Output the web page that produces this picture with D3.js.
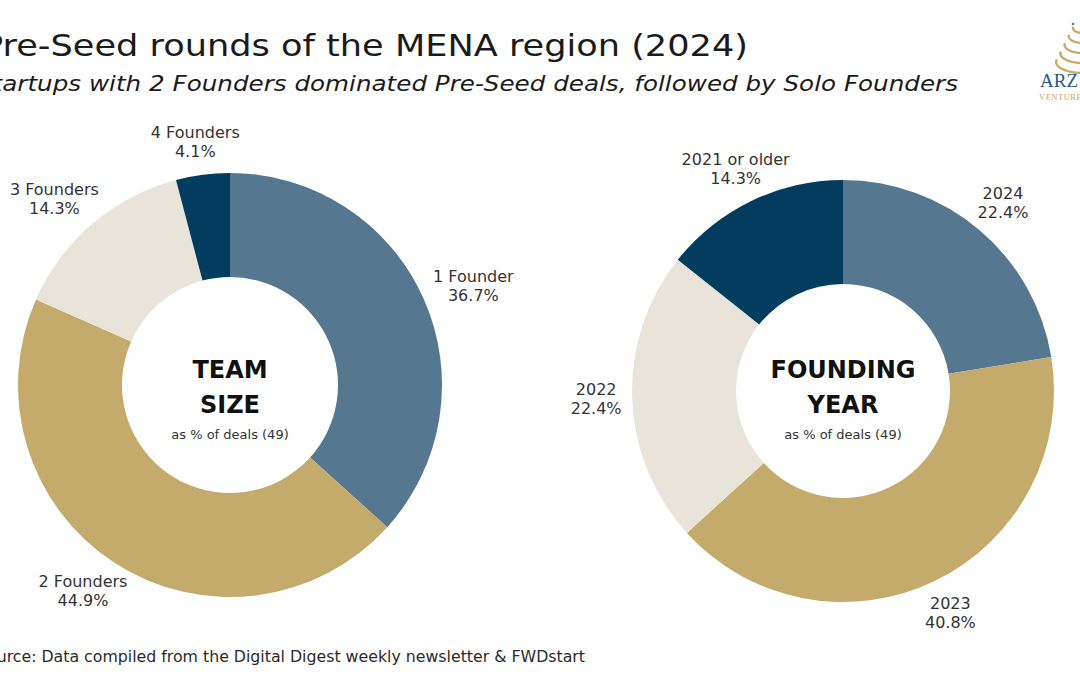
<!DOCTYPE html>
<html><head><meta charset="utf-8">
<script src="https://cdn.jsdelivr.net/npm/d3@7"></script>
<style>
html,body{margin:0;padding:0;background:#fff;overflow:hidden;}
svg{display:block;font-family:"DejaVu Sans","Open Sans",sans-serif;}
</style></head>
<body>
<svg id="c" width="1080" height="675"></svg>
<script>
const teamCategories = ["1 Founder","2 Founders","3 Founders","4 Founders"];
const teamValues = [36.7, 44.9, 14.3, 4.1];
const yearCategories = ["2024","2023","2022","2021 or older"];
const yearValues = [22.4, 40.8, 22.4, 14.3];
const sliceColors = ["#55778f","#c5ab6b","#e9e4d9","#023d60"];
const dealCount = 49;

const svg = d3.select("#c");

// Titles (cut at the left edge as in the reference)
function fitText(sel, len){ sel.attr("textLength", len).attr("lengthAdjust","spacingAndGlyphs"); }
const t1 = svg.append("text").attr("x", -18).attr("y", 56)
  .attr("font-size", 30).attr("fill","#1b1b1b")
  .text("Pre-Seed rounds of the MENA region (2024)");
fitText(t1, 766);
const t2 = svg.append("text").attr("x", -23).attr("y", 91)
  .attr("font-size", 22).attr("font-style","italic").attr("fill","#1b1b1b")
  .text("Startups with 2 Founders dominated Pre-Seed deals, followed by Solo Founders");
fitText(t2, 981);
const t3 = svg.append("text").attr("x", -23).attr("y", 662)
  .attr("font-size", 16).attr("fill","#2a2a2a")
  .text("Source: Data compiled from the Digital Digest weekly newsletter & FWDstart");
fitText(t3, 608);

// Logo (partially cut at right edge)
const logo = svg.append("g");
[0,1,2,3,4].forEach(i=>{
  const cx = 1083, cy = 28 + i*8.5, rx = 10 + i*4.2, ry = 5 + i*1.5;
  const pts = d3.range(0, 41).map(k=>{
    const t = Math.PI*0.35 + (k/40)*Math.PI*0.72;
    return [cx + rx*Math.cos(t), cy + ry*Math.sin(t)];
  });
  logo.append("path").attr("d", d3.line()(pts))
    .attr("fill","none").attr("stroke","#c9ab68").attr("stroke-width",2.4);
});
logo.append("circle").attr("cx",1073).attr("cy",24).attr("r",1.3).attr("fill","#55778f");
logo.append("text").attr("x",1040).attr("y",87).attr("font-family","Liberation Serif, serif")
  .attr("font-size",19).attr("fill","#2a5a86").text("ARZ");
logo.append("text").attr("x",1039).attr("y",100).attr("font-family","Liberation Serif, serif")
  .attr("font-size",8.5).attr("fill","#c9ab68").attr("letter-spacing",0.5).text("VENTURES");

function donut(cx, cy, R, r0, cats, vals, title1, title2, labelMode, labelR, textY){
  const g = svg.append("g").attr("transform", `translate(${cx},${cy})`);
  const pie = d3.pie().sort(null).value(d=>d.v);
  const data = pie(cats.map((c,i)=>({c, v: vals[i], i})));
  const arc = d3.arc().innerRadius(r0).outerRadius(R);
  g.selectAll("path.s").data(data).join("path").attr("class","s")
    .attr("d", arc).attr("fill", d=>sliceColors[d.data.i]);
  const lh = 19, fs = 16;
  data.forEach(d=>{
    const a = (d.startAngle + d.endAngle)/2;
    const s = Math.sin(a), c = -Math.cos(a);
    const lines = [d.data.c, d.data.v.toFixed(1) + "%"];
    let px, py;
    if (labelMode === "box") {
      const tmp = g.append("text").attr("font-size", fs).text(lines[0]);
      const w = Math.max(tmp.node().getComputedTextLength(), 40);
      tmp.remove();
      const h = 38;
      px = (R+labelR)*s + s*w/2;
      py = (R+labelR)*c + c*h/2;
    } else {
      px = labelR*s; py = labelR*c;
    }
    const t = g.append("text").attr("text-anchor","middle").attr("font-size", fs).attr("fill","#333");
    t.append("tspan").attr("x", px).attr("y", py - 4).text(lines[0]);
    t.append("tspan").attr("x", px).attr("y", py - 4 + lh).text(lines[1]);
  });
  const tg = svg.append("g").attr("transform", `translate(${cx},${textY})`);
  tg.append("text").attr("text-anchor","middle").attr("y",-7).attr("font-size",24)
    .attr("font-weight","bold").attr("fill","#111").text(title1);
  tg.append("text").attr("text-anchor","middle").attr("y",28).attr("font-size",24)
    .attr("font-weight","bold").attr("fill","#111").text(title2);
  tg.append("text").attr("text-anchor","middle").attr("y",54).attr("font-size",13)
    .attr("fill","#333").text(`as % of deals (${dealCount})`);
}
donut(230, 385, 212, 108, teamCategories, teamValues, "TEAM", "SIZE", "box", 14, 385);
donut(843, 391, 211, 107, yearCategories, yearValues, "FOUNDING", "YEAR", "radial", 247, 385);
</script>
</body></html>
